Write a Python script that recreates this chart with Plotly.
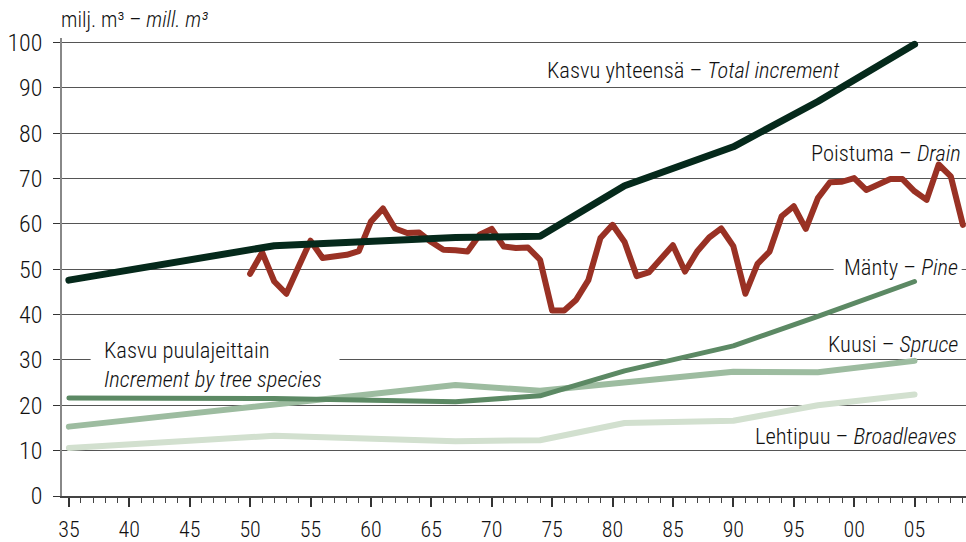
import plotly.graph_objects as go

# ---- data ----
inv_years = [1935, 1952, 1967, 1974, 1981, 1990, 1997, 2005]
total_increment = [47.6, 55.2, 57.0, 57.3, 68.4, 77.0, 87.0, 99.6]
pine = [21.6, 21.5, 20.8, 22.1, 27.6, 33.1, 39.6, 47.3]
spruce = [15.3, 20.1, 24.5, 23.2, 25.1, 27.4, 27.3, 29.8]
broadleaves = [10.6, 13.3, 12.1, 12.3, 16.1, 16.6, 20.0, 22.4]

drain_years = list(range(1950, 2010))
drain = [49.0, 53.7, 47.3, 44.6, 50.5, 56.3, 52.5, 52.8, 53.2, 54.0,
         60.5, 63.4, 59.0, 58.0, 58.1, 56.0, 54.3, 54.2, 53.9, 57.6,
         58.9, 55.0, 54.7, 54.8, 52.1, 40.9, 40.9, 43.3, 47.6, 56.9,
         59.8, 56.0, 48.5, 49.3, 52.1, 55.3, 49.5, 53.9, 57.0, 59.0,
         55.1, 44.6, 51.2, 53.9, 61.7, 63.9, 58.9, 65.7, 69.2, 69.3,
         70.1, 67.5, 68.7, 69.9, 69.9, 67.2, 65.3, 73.1, 70.5, 59.8]

x_tickvals = list(range(1935, 2010, 5))
x_ticktext = ["35", "40", "45", "50", "55", "60", "65", "70", "75",
              "80", "85", "90", "95", "00", "05"]
y_tickvals = list(range(0, 101, 10))

FONT = "Roboto Condensed, Liberation Sans Narrow, DejaVu Sans Condensed, sans-serif"

fig = go.Figure()

def add_line(x, y, color, width):
    fig.add_trace(go.Scatter(x=x, y=y, mode="lines",
                             line=dict(color=color, width=width),
                             hoverinfo="skip", showlegend=False))

add_line(inv_years, broadleaves, "#d2e0cf", 6)
add_line(inv_years, spruce, "#9dbca0", 6)
add_line(inv_years, pine, "#5c8964", 5)
add_line(drain_years, drain, "#993124", 6)
add_line(inv_years, total_increment, "#05291b", 7)

# white breaks in gridlines behind labels
fig.add_shape(type="rect", xref="x", yref="y", x0=1936.8, x1=1957.4, y0=29, y1=31,
              fillcolor="white", line=dict(width=0), layer="between")
fig.add_shape(type="rect", xref="x", yref="y", x0=1998.3, x1=2008.9, y0=49, y1=51,
              fillcolor="white", line=dict(width=0), layer="between")

ann_font = dict(family=FONT, size=22.5, color="#111111", weight=300)

def ann(x, y, text, xanchor="right", align="right"):
    fig.add_annotation(x=x, y=y, xref="x", yref="y", text=text, showarrow=False,
                       xanchor=xanchor, yanchor="middle", align=align, font=ann_font)

ann(1999.0, 94.0, "Kasvu yhteensä – <i>Total increment</i>")
ann(2009.0, 75.7, "Poistuma – <i>Drain</i>")
ann(2008.8, 50.6, "Mänty – <i>Pine</i>")
ann(2008.8, 33.5, "Kuusi – <i>Spruce</i>")
ann(2008.7, 13.2, "Lehtipuu – <i>Broadleaves</i>")
ann(1937.75, 29.1, "Kasvu puulajeittain<br><i>Increment by tree species</i>",
    xanchor="left", align="left")

fig.add_annotation(x=-0.003, y=1.04, xref="paper", yref="paper",
                   text="milj. m³ – <i>mill. m³</i>", showarrow=False,
                   xanchor="left", yanchor="middle",
                   font=dict(family=FONT, size=21.5, color="#111111", weight=300))

tick_font = dict(family=FONT, size=24, color="#111111", weight=300)
xtick_font = dict(family=FONT, size=22, color="#111111", weight=300)

fig.update_layout(
    width=966, height=542,
    margin=dict(l=62, r=0, t=38, b=46),
    paper_bgcolor="white", plot_bgcolor="white",
    font=dict(family=FONT, size=21, color="#111111"),
    showlegend=False,
    xaxis=dict(range=[1934.43, 2009.26], tickmode="array", tickvals=x_tickvals,
               ticktext=x_ticktext, ticks="outside", ticklen=9, tickwidth=1.5,
               tickcolor="#333333", showline=True, linecolor="#444444", linewidth=1.5,
               showgrid=False, zeroline=False, ticklabelstandoff=4, automargin=False,
               tickfont=xtick_font,
               minor=dict(tickmode="linear", tick0=1935, dtick=1, ticks="outside",
                          ticklen=5, tickwidth=1, tickcolor="#444444", showgrid=False)),
    yaxis=dict(range=[0, 101], tickmode="array", tickvals=y_tickvals,
               ticks="outside", ticklen=7, tickwidth=1.2, tickcolor="#333333",
               showline=True, linecolor="#888888", linewidth=1.5,
               showgrid=True, gridcolor="#555555", gridwidth=1, zeroline=False,
               automargin=False, ticklabelstandoff=6, tickfont=tick_font),
)

post = (
    "document.body.style.margin='0';document.body.style.padding='0';"
    "document.querySelectorAll('.scatterlayer path.js-line').forEach(function(p){"
    "p.style.strokeLinecap='round';p.style.strokeLinejoin='round';});"
)

fig.write_html("out.html", config={"displayModeBar": False}, post_script=post)
